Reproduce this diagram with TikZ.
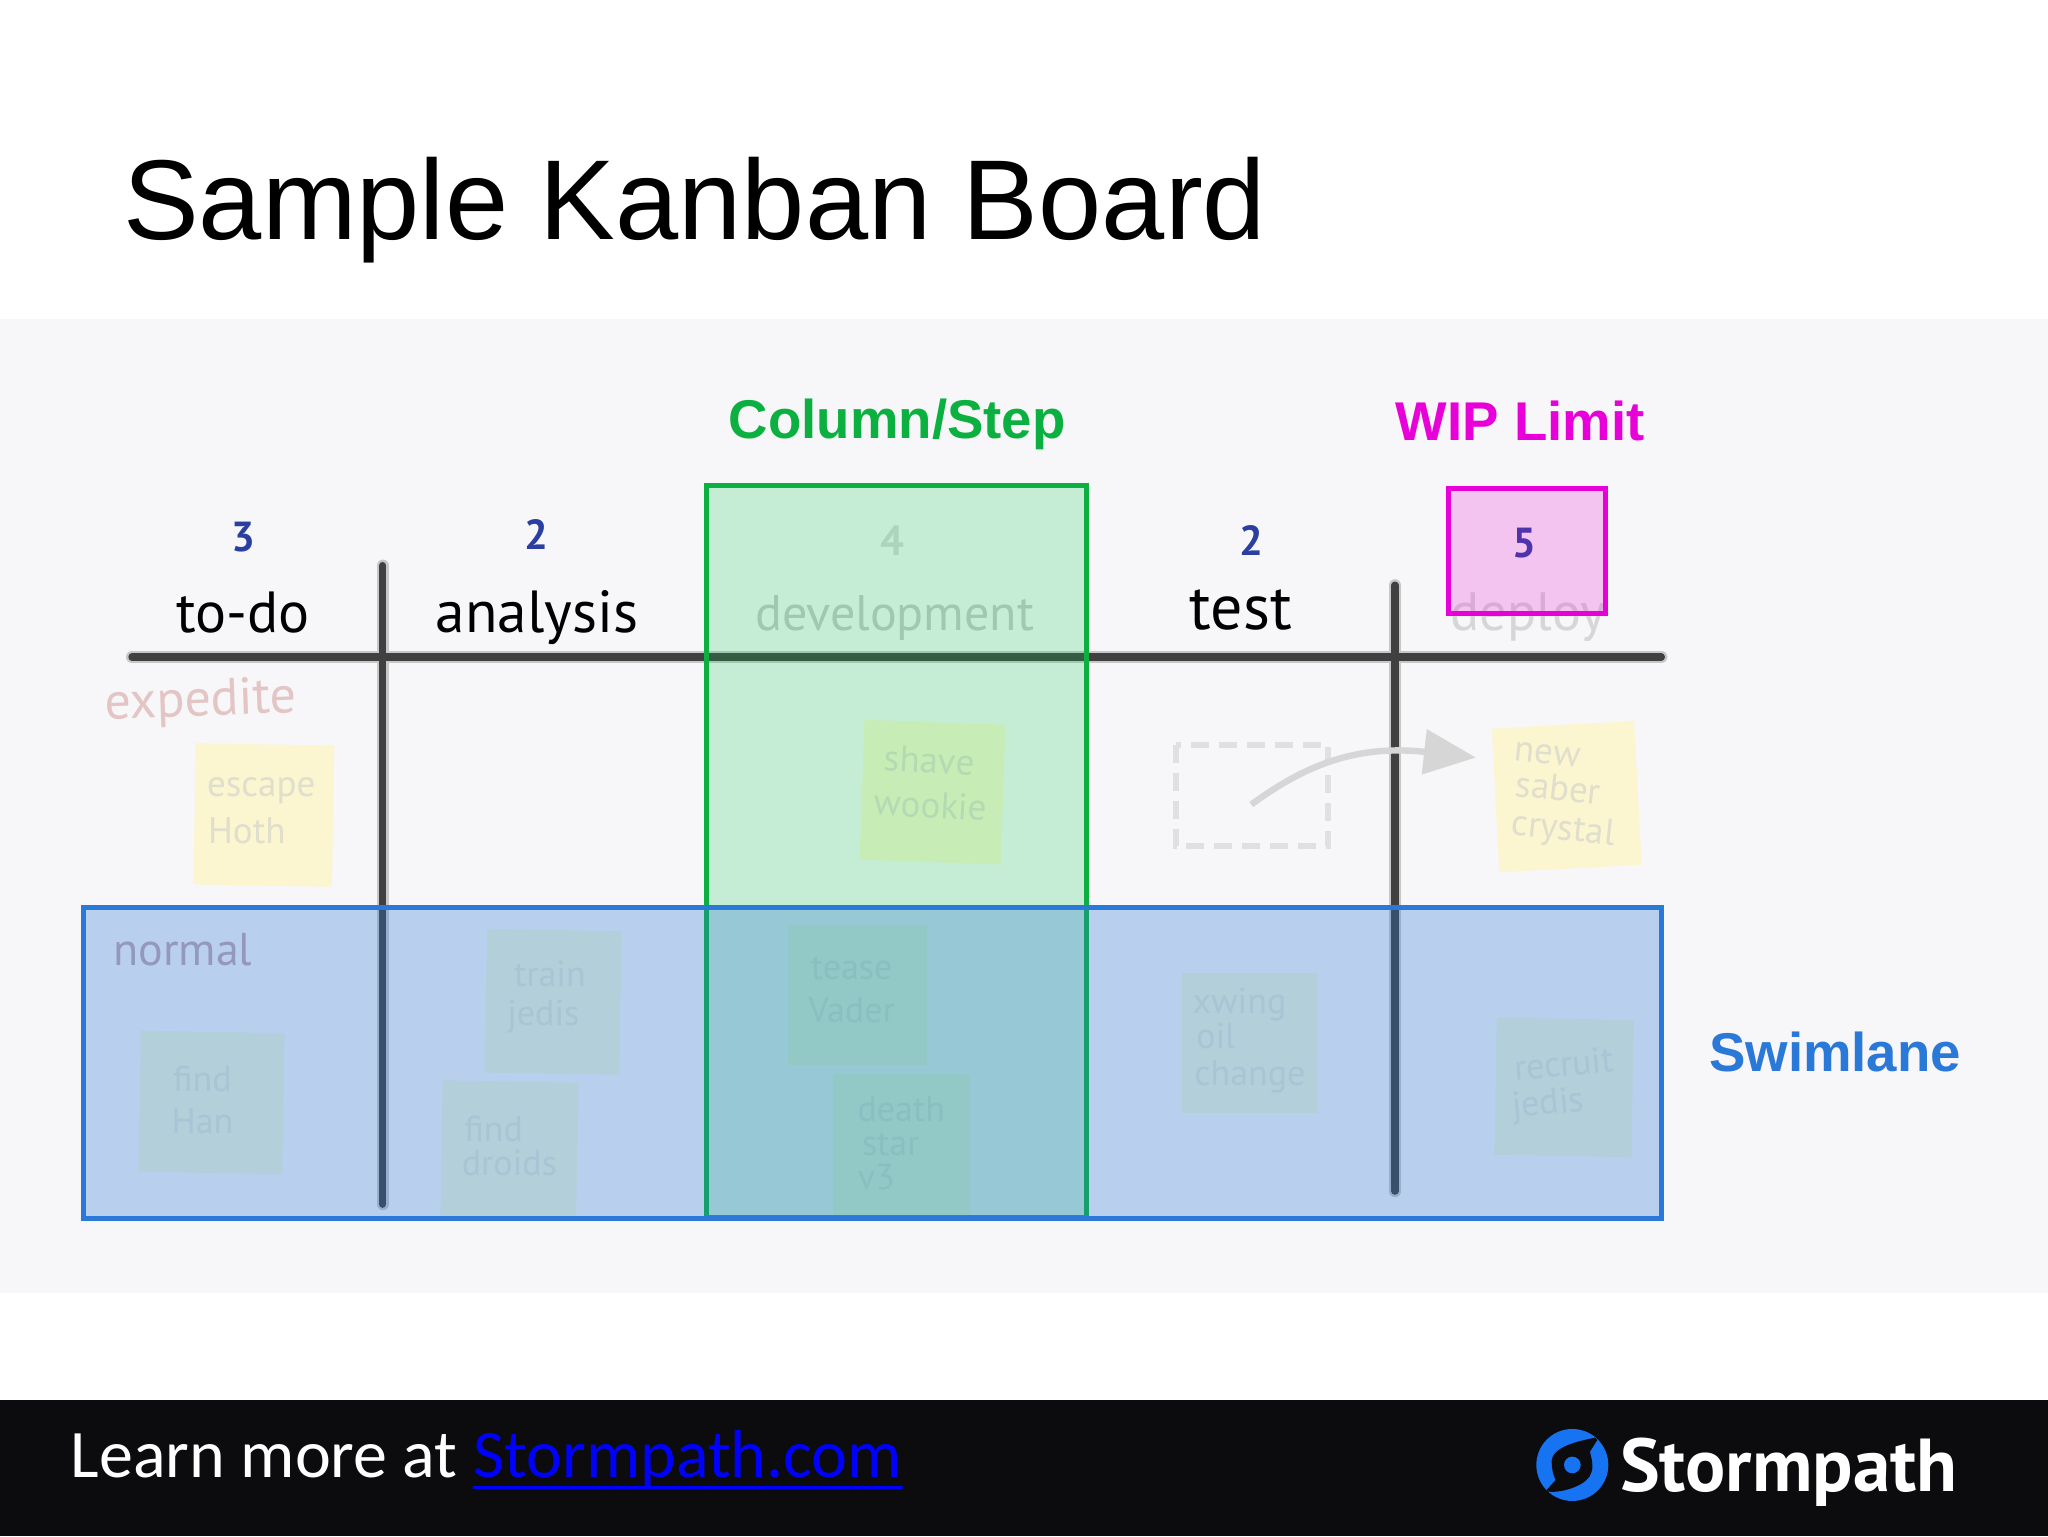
\documentclass[tikz,border=0pt]{standalone}
\usepackage{fontspec}
\usetikzlibrary{arrows.meta}
\setmainfont{Liberation Sans}
\newfontfamily\handfont{PT Sans}
\newfontfamily\footfont{Carlito}
\newcommand{\fsz}[1]{\fontsize{#1}{#1}\selectfont}
\definecolor{paper}{HTML}{F7F6F8}
\definecolor{greenbar}{HTML}{0CB040}
\definecolor{greenfill}{HTML}{00CC4C}
\definecolor{pinkbar}{HTML}{E800D8}
\definecolor{bluebar}{HTML}{2A78D8}
\definecolor{numblue}{HTML}{2A3FA0}
\definecolor{note}{HTML}{FBF5D0}
\definecolor{notepale}{HTML}{EFF5DC}
\definecolor{notetext}{HTML}{E0DECC}
\definecolor{notetextpale}{HTML}{E2E4D4}
\definecolor{stormblue}{HTML}{1673F2}
\definecolor{footer}{HTML}{0C0C0F}
\tikzset{
  label/.style={font=\bfseries\fsz{27.3}, anchor=base, inner sep=0pt},
  head/.style={font=\handfont\fsz{#1}, anchor=base, inner sep=0pt, text=black},
  num/.style={font=\handfont\bfseries\fsz{21}, anchor=base, inner sep=0pt, text=numblue},
  notetxt/.style={font=\handfont\fsz{18.5}, text=notetext, inner sep=0pt, anchor=base},
  paletxt/.style={font=\handfont\fsz{18}, text=notetextpale, inner sep=0pt, anchor=base},
  rule/.style={line width=3.6pt, black!75, line cap=round},
  softrule/.style={line width=6pt, black!22, line cap=round},
  rectline/.style={line width=2.6pt}
}
\begin{document}
\begin{tikzpicture}[x=0.65306pt,y=-0.65306pt]
\useasboundingbox (0,0) rectangle (1568,1176);
\fill[white] (0,0) rectangle (1568,1176);
\node[font=\fsz{56.8}, anchor=base west, inner sep=0pt] (title) at (94,183) {Sample Kanban Board};
\fill[paper] (0,244) rectangle (1568,990);
% sticky notes
\fill[note,rotate around={-1:(202,624)}] (149,570) rectangle (255,678);
\fill[note,rotate around={-2:(714,606)}] (660,553) rectangle (768,660);
\fill[notepale,rotate around={-1:(423,767)}] (372,712) rectangle (475,822);
\fill[notepale,rotate around={-1:(162,844)}] (107,790) rectangle (217,898);
\fill[notepale,rotate around={-1:(390,880)}] (338,828) rectangle (442,932);
\fill[notepale] (603,708) rectangle (710,815);
\fill[notepale] (638,822) rectangle (743,930);
\fill[notepale] (905,745) rectangle (1008,852);
\fill[notepale,rotate around={-1:(1197,832)}] (1145,780) rectangle (1250,885);
\fill[note,rotate around={3:(1199,610)}] (1145,555) rectangle (1254,665);
% rules: all soft edges first, then the dark cores
\draw[softrule] (101,503) -- (1272,503);
\draw[softrule] (293,433) -- (293,922);
\draw[softrule] (1068,448) -- (1068,912);
\draw[rule] (101,503) -- (1272,503);
\draw[rule] (293,433) -- (293,922);
\draw[rule] (1068,448) -- (1068,912);
% column heads
\node[num] (n1) at (186,422) {3};
\node[num] (n2) at (411,421) {2};
\node[num, text=black!16] (n3) at (683,425) {4};
\node[num] (n4) at (958,425) {2};
\node[num] (n5) at (1167,427) {5};
\node[head=29] (h1) at (186,484) {to-do};
\node[head=29.7] (h2) at (411,484) {analysis};
\node[head=25, text=black!22] (h3) at (685,483) {development};
\node[head=32] (h4) at (950,482) {test};
\node[head=27, text=black!16] (h5) at (1170,483) {deploy};
% lane labels
\node[head=26, text=pink!70!gray!70, rotate=2] (expedite) at (154,548) {expedite};
\node[head=23, text=purple!25!gray!55] (normal) at (140,739) {normal};
% note texts
\node[notetxt] (e1) at (200,610) {escape};
\node[notetxt] (e2) at (189,646) {Hoth};
\node[notetxt, rotate=-3] (s1) at (711,592) {shave};
\node[notetxt, rotate=-3] (s2) at (712,626) {wookie};
\node[paletxt] (t1) at (421,755) {train};
\node[paletxt] (t2) at (416,785) {jedis};
\node[paletxt] (f1) at (155,836) {find};
\node[paletxt] (f2) at (155,868) {Han};
\node[paletxt] (d1) at (378,874) {find};
\node[paletxt] (d2) at (390,900) {droids};
\node[paletxt] (v1) at (652,750) {tease};
\node[paletxt] (v2) at (652,783) {Vader};
\node[paletxt] (k1) at (690,859) {death};
\node[paletxt] (k2) at (682,885) {star};
\node[paletxt] (k3) at (671,911) {v3};
\node[paletxt] (x1) at (949,776) {xwing};
\node[paletxt] (x2) at (931,803) {oil};
\node[paletxt] (x3) at (957,831) {change};
\node[paletxt, rotate=5] (r1) at (1198,824) {recruit};
\node[paletxt, rotate=5] (r2) at (1186,853) {jedis};
\node[notetxt, rotate=-6] (c1) at (1184,585) {new};
\node[notetxt, rotate=-6] (c2) at (1192,613) {saber};
\node[notetxt, rotate=-6] (c3) at (1196,643) {crystal};
% blocked marker
\draw[black!12, line width=3pt, dash pattern=on 9pt off 5pt] (900,570) rectangle (1017,648);
\coordinate (from) at (958,616);
\coordinate (to) at (1130,580);
\draw[black!16, line width=3.2pt, -{Triangle[length=26pt,width=22pt]}] (from) .. controls (1000,585) and (1040,570) .. (to);
% overlays
\fill[greenfill, fill opacity=.2] (541,372) rectangle (832,932);
\draw[greenbar, rectline] (541,372) rectangle (832,932);
\fill[pinkbar, fill opacity=.2] (1109,374) rectangle (1229,470);
\draw[pinkbar, rectline] (1109,374) rectangle (1229,470);
\fill[bluebar, fill opacity=.3] (64,695) rectangle (1272,933);
\draw[bluebar, rectline] (64,695) rectangle (1272,933);
\node[label, text=greenbar] (col) at (687,336) {Column/Step};
\node[label, text=pinkbar] (wip) at (1164,337) {WIP Limit};
\node[label, text=bluebar] (swim) at (1405,820) {Swimlane};
% footer
\fill[footer] (0,1072) rectangle (1568,1176);
\node[font=\footfont\fsz{34}, anchor=base west, inner sep=0pt, text=white] (learn) at (54,1131) {Learn more at};
\node[font=\footfont\fsz{34}, anchor=base west, inner sep=0pt, text=blue] (link) at (362,1131) {Stormpath.com};
\draw[blue, line width=1.5pt] (link.base west) ++(0,8) -- ([yshift=-5.2pt]link.base east);
% logo
\begin{scope}[shift={(1203.8,1121.6)}, scale=.2552]
\fill[stormblue] (0,0) circle (108);
\fill[footer] (68,-82) .. controls (20,-72) and (-62,-55) .. (-62,-10)
  .. controls (-62,10) and (-58,30) .. (-50,45) -- (-77,75) -- (-72,80)
  .. controls (-30,85) and (50,60) .. (58,20) .. controls (65,-5) and (55,-25) .. (53,-40) -- (75,-75) -- cycle;
\fill[stormblue] (0,0) circle (25);
\end{scope}
\node[font=\handfont\bfseries\fsz{37.5}, anchor=base west, inner sep=0pt, text=white] (brand) at (1240,1142) {Stormpath};
\end{tikzpicture}
\end{document}
